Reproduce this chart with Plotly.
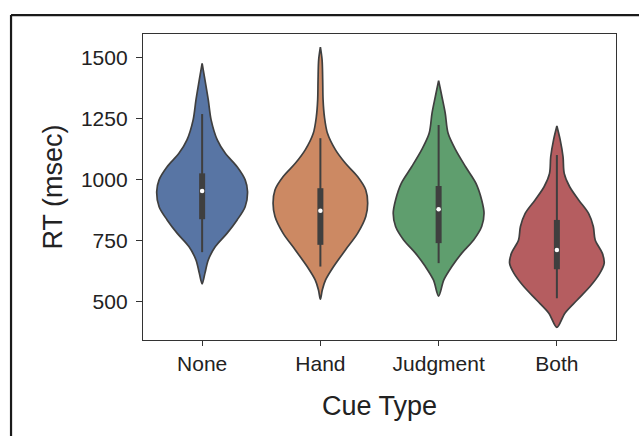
import plotly.graph_objects as go

# Cue conditions and reaction-time summaries (msec)
cue_types = ["None", "Hand", "Judgment", "Both"]

# Violin outlines: RT levels and relative density (1.0 = widest)
rt_none = [572, 616, 670, 725, 780, 834, 888, 950, 998, 1052, 1107, 1162, 1244, 1326, 1408, 1476]
dens_none = [0, 0.06, 0.13, 0.28, 0.53, 0.74, 0.91, 0.96, 0.91, 0.74, 0.49, 0.32, 0.19, 0.13, 0.06, 0]

rt_hand = [509, 547, 588, 643, 711, 780, 848, 902, 957, 1011, 1066, 1121, 1189, 1257, 1326, 1408, 1490, 1542]
dens_hand = [0, 0.04, 0.11, 0.28, 0.53, 0.79, 0.96, 1.0, 0.96, 0.79, 0.53, 0.32, 0.15, 0.085, 0.057, 0.049, 0.036, 0]

rt_judg = [522, 588, 643, 698, 752, 807, 861, 916, 984, 1052, 1121, 1189, 1271, 1339, 1405]
dens_judg = [0, 0.11, 0.28, 0.49, 0.74, 0.91, 0.96, 0.91, 0.79, 0.57, 0.36, 0.2, 0.14, 0.07, 0]

rt_both = [394, 452, 506, 561, 616, 657, 698, 752, 807, 861, 916, 970, 1025, 1093, 1162, 1219]
dens_both = [0, 0.17, 0.43, 0.7, 0.91, 1.0, 0.96, 0.81, 0.77, 0.67, 0.46, 0.27, 0.155, 0.13, 0.07, 0]

# Box summaries: whisker low, Q1, median, Q3, whisker high
whisker_lo = [702, 643, 657, 513]
q1 = [837, 732, 739, 632]
median = [953, 872, 878, 711]
q3 = [1025, 964, 973, 834]
whisker_hi = [1268, 1169, 1223, 1100]

colors = ["#5875a4", "#cc8963", "#5f9e6e", "#b55d60"]
edge = "#3f3f3f"
max_half_width = 0.4

outlines = [(rt_none, dens_none), (rt_hand, dens_hand), (rt_judg, dens_judg), (rt_both, dens_both)]

fig = go.Figure()

for i, (rt, dens) in enumerate(outlines):
    right_x = [i + max_half_width * d for d in dens]
    left_x = [i - max_half_width * d for d in reversed(dens)]
    xs = right_x + left_x
    ys = list(rt) + list(reversed(rt))
    fig.add_trace(go.Scatter(
        x=xs, y=ys, mode="lines", fill="toself", fillcolor=colors[i],
        line=dict(color=edge, width=1.7, shape="spline", smoothing=0.9),
        hoverinfo="skip", showlegend=False,
    ))
    # whisker
    fig.add_trace(go.Scatter(
        x=[i, i], y=[whisker_lo[i], whisker_hi[i]], mode="lines",
        line=dict(color=edge, width=2), hoverinfo="skip", showlegend=False,
    ))
    # interquartile box
    fig.add_trace(go.Scatter(
        x=[i, i], y=[q1[i], q3[i]], mode="lines",
        line=dict(color=edge, width=6), hoverinfo="skip", showlegend=False,
    ))
    # median
    fig.add_trace(go.Scatter(
        x=[i], y=[median[i]], mode="markers",
        marker=dict(color="white", size=4.5), hoverinfo="skip", showlegend=False,
    ))

font_family = "Liberation Sans, Arial, sans-serif"

fig.update_layout(
    width=639, height=436,
    margin=dict(l=143, r=23, t=34, b=96),
    paper_bgcolor="white", plot_bgcolor="white",
    font=dict(family=font_family, color="#222222"),
    xaxis=dict(
        range=[-0.5, 3.5], tickmode="array", tickvals=list(range(len(cue_types))),
        ticktext=cue_types, showgrid=False, zeroline=False,
        showline=True, mirror=True, linecolor="#333333", linewidth=1.3,
        ticks="outside", ticklen=5, tickwidth=1.3, tickcolor="#333333",
        tickfont=dict(size=21),
        title=dict(text="Cue Type", font=dict(size=27), standoff=21),
    ),
    yaxis=dict(
        range=[342, 1596], tickmode="array", tickvals=[500, 750, 1000, 1250, 1500],
        showgrid=False, zeroline=False,
        showline=True, mirror=True, linecolor="#333333", linewidth=1.3,
        ticks="outside", ticklen=6, tickwidth=1.3, tickcolor="#333333",
        tickfont=dict(size=21), ticklabelstandoff=4,
        title=dict(text="RT (msec)", font=dict(size=27), standoff=10),
    ),
    shapes=[
        # outer frame: top and left edges
        dict(type="line", xref="paper", yref="paper", x0=-0.279, x1=1.06, y0=1.062, y1=1.062,
             line=dict(color="#1a1a1a", width=2.2)),
        dict(type="line", xref="paper", yref="paper", x0=-0.279, x1=-0.279, y0=1.062, y1=-0.33,
             line=dict(color="#1a1a1a", width=2.2)),
    ],
)

fig.write_html("out.html")
